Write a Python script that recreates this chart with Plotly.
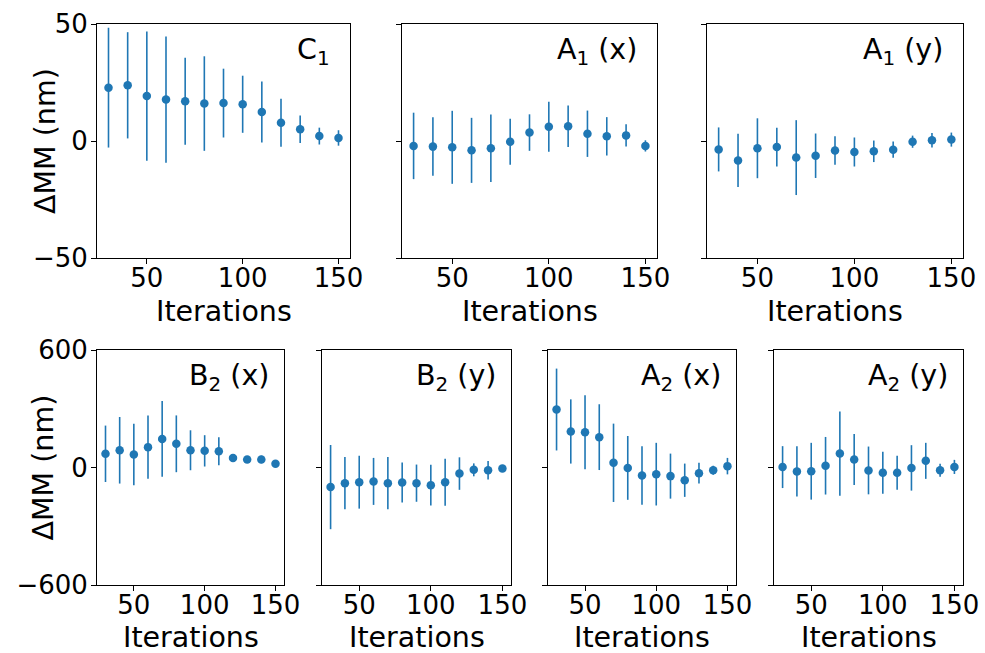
import plotly.graph_objects as go

iterations = [30, 40, 50, 60, 70, 80, 90, 100, 110, 120, 130, 140, 150]

c1_mean = [22.8, 23.8, 19.2, 17.7, 17.0, 16.0, 16.2, 15.7, 12.4, 7.8, 5.0, 2.1, 1.3]
c1_err = [25.6, 22.7, 27.6, 27.0, 18.6, 20.2, 14.7, 12.2, 13.0, 10.3, 5.9, 3.6, 3.3]

a1x_mean = [-2.1, -2.4, -2.7, -4.0, -3.1, -0.3, 3.6, 6.1, 6.3, 3.1, 2.0, 2.4, -2.1]
a1x_err = [14.2, 12.5, 15.6, 13.9, 14.4, 9.8, 7.8, 10.7, 8.9, 9.9, 8.2, 4.8, 2.4]

a1y_mean = [-3.6, -8.3, -3.1, -2.6, -7.1, -6.3, -4.1, -4.7, -4.4, -3.7, -0.3, 0.3, 0.6]
a1y_err = [9.4, 11.4, 12.8, 8.3, 16.0, 9.5, 6.1, 6.2, 4.6, 3.5, 2.6, 3.1, 3.0]

b2x_mean = [70, 88, 66, 104, 146, 121, 88, 85, 83, 48, 41, 41, 19]
b2x_err = [144, 170, 157, 162, 193, 145, 102, 80, 72, 10, 8, 19, 8]

b2y_mean = [-100, -80, -75, -71, -80, -77, -80, -90, -75, -31, -12, -14, -5]
b2y_err = [215, 133, 135, 120, 133, 102, 95, 104, 120, 83, 33, 47, 18]

a2x_mean = [296, 184, 180, 155, 24, -2, -41, -34, -44, -65, -29, -14, 7]
a2x_err = [209, 164, 189, 168, 200, 163, 149, 160, 115, 85, 53, 23, 42]

a2y_mean = [2, -20, -19, 9, 71, 41, -15, -27, -27, -2, 34, -14, 3]
a2y_err = [107, 128, 145, 147, 215, 130, 122, 107, 87, 116, 92, 33, 36]

panel_labels = ["C<sub>1</sub>", "A<sub>1</sub> (x)", "A<sub>1</sub> (y)",
                "B<sub>2</sub> (x)", "B<sub>2</sub> (y)", "A<sub>2</sub> (x)", "A<sub>2</sub> (y)"]
means = [c1_mean, a1x_mean, a1y_mean, b2x_mean, b2y_mean, a2x_mean, a2y_mean]
errs = [c1_err, a1x_err, a1y_err, b2x_err, b2y_err, a2x_err, a2y_err]

x_ticks = [50, 100, 150]
top_ticks = [-50, 0, 50]
bottom_ticks = [-600, 0, 600]
x_title = "Iterations"
y_title = "\u0394MM (nm)"

W, H = 985, 653
color = "#1f77b4"
font = "DejaVu Sans, Arial, sans-serif"
TICK_SIZE = 26
LABEL_SIZE = 28.5

# pixel boxes (left, right, top, bottom)
boxes = [
    (97, 350, 24, 258), (402, 657, 24, 258), (707, 963, 24, 258),
    (97, 284, 350, 585), (322, 511, 350, 585), (548, 736, 350, 585), (774, 963, 350, 585),
]

fig = go.Figure()
layout = {}
annotations = []
for i, (mean, err, lab, box) in enumerate(zip(means, errs, panel_labels, boxes)):
    n = i + 1
    xs = "" if n == 1 else str(n)
    fig.add_trace(go.Scatter(
        x=iterations, y=mean, mode="markers",
        marker=dict(color=color, size=8.5),
        error_y=dict(type="data", array=err, visible=True, color=color, thickness=1.6, width=0),
        xaxis="x" + xs, yaxis="y" + xs, showlegend=False,
    ))
    l, r, t, b = box
    top_row = i < 3
    first = i in (0, 3)
    axcommon = dict(showline=True, linecolor="black", linewidth=1, mirror=True,
                    ticks="outside", ticklen=5, tickcolor="black", tickwidth=1,
                    showgrid=False, zeroline=False, automargin=False,
                    tickfont=dict(family=font, size=TICK_SIZE, color="black"))
    layout["xaxis" + xs] = dict(
        domain=[l / W, r / W], anchor="y" + xs, range=[24, 156],
        tickvals=x_ticks, ticktext=[str(v) for v in x_ticks],
        ticklabelstandoff=-8,
        **axcommon)
    ticks = top_ticks if top_row else bottom_ticks
    yr = [-50, 50] if top_row else [-600, 600]
    layout["yaxis" + xs] = dict(
        domain=[1 - b / H, 1 - t / H], anchor="x" + xs, range=yr,
        tickvals=ticks,
        ticktext=[(str(v).replace("-", "\u2212")) for v in ticks],
        showticklabels=first,
        ticklabelstandoff=-2,
        **axcommon)
    annotations.append(dict(
        text=lab, xref="x" + xs + " domain", yref="y" + xs + " domain",
        x=0.93, y=0.97, xanchor="right", yanchor="top", showarrow=False,
        font=dict(family=font, size=LABEL_SIZE, color="black")))
    # x axis title
    ty = 311 if top_row else 637
    annotations.append(dict(
        text=x_title, xref="paper", yref="paper",
        x=(l + r) / 2 / W, y=1 - ty / H, xanchor="center", yanchor="middle",
        showarrow=False, font=dict(family=font, size=LABEL_SIZE, color="black")))
    if first:
        tx = 46 if top_row else 43
        annotations.append(dict(
            text=y_title, xref="paper", yref="paper", textangle=-90,
            x=tx / W, y=1 - (t + b) / 2 / H, xanchor="center", yanchor="middle",
            showarrow=False, font=dict(family=font, size=LABEL_SIZE, color="black")))

fig.update_layout(
    **layout, annotations=annotations,
    width=W, height=H, margin=dict(l=0, r=0, t=0, b=0),
    plot_bgcolor="white", paper_bgcolor="white",
    font=dict(family=font, size=TICK_SIZE, color="black"),
)
fig.write_html("out.html", config={"displayModeBar": False},
               post_script="document.body.style.margin='0';document.body.style.overflow='hidden';")
